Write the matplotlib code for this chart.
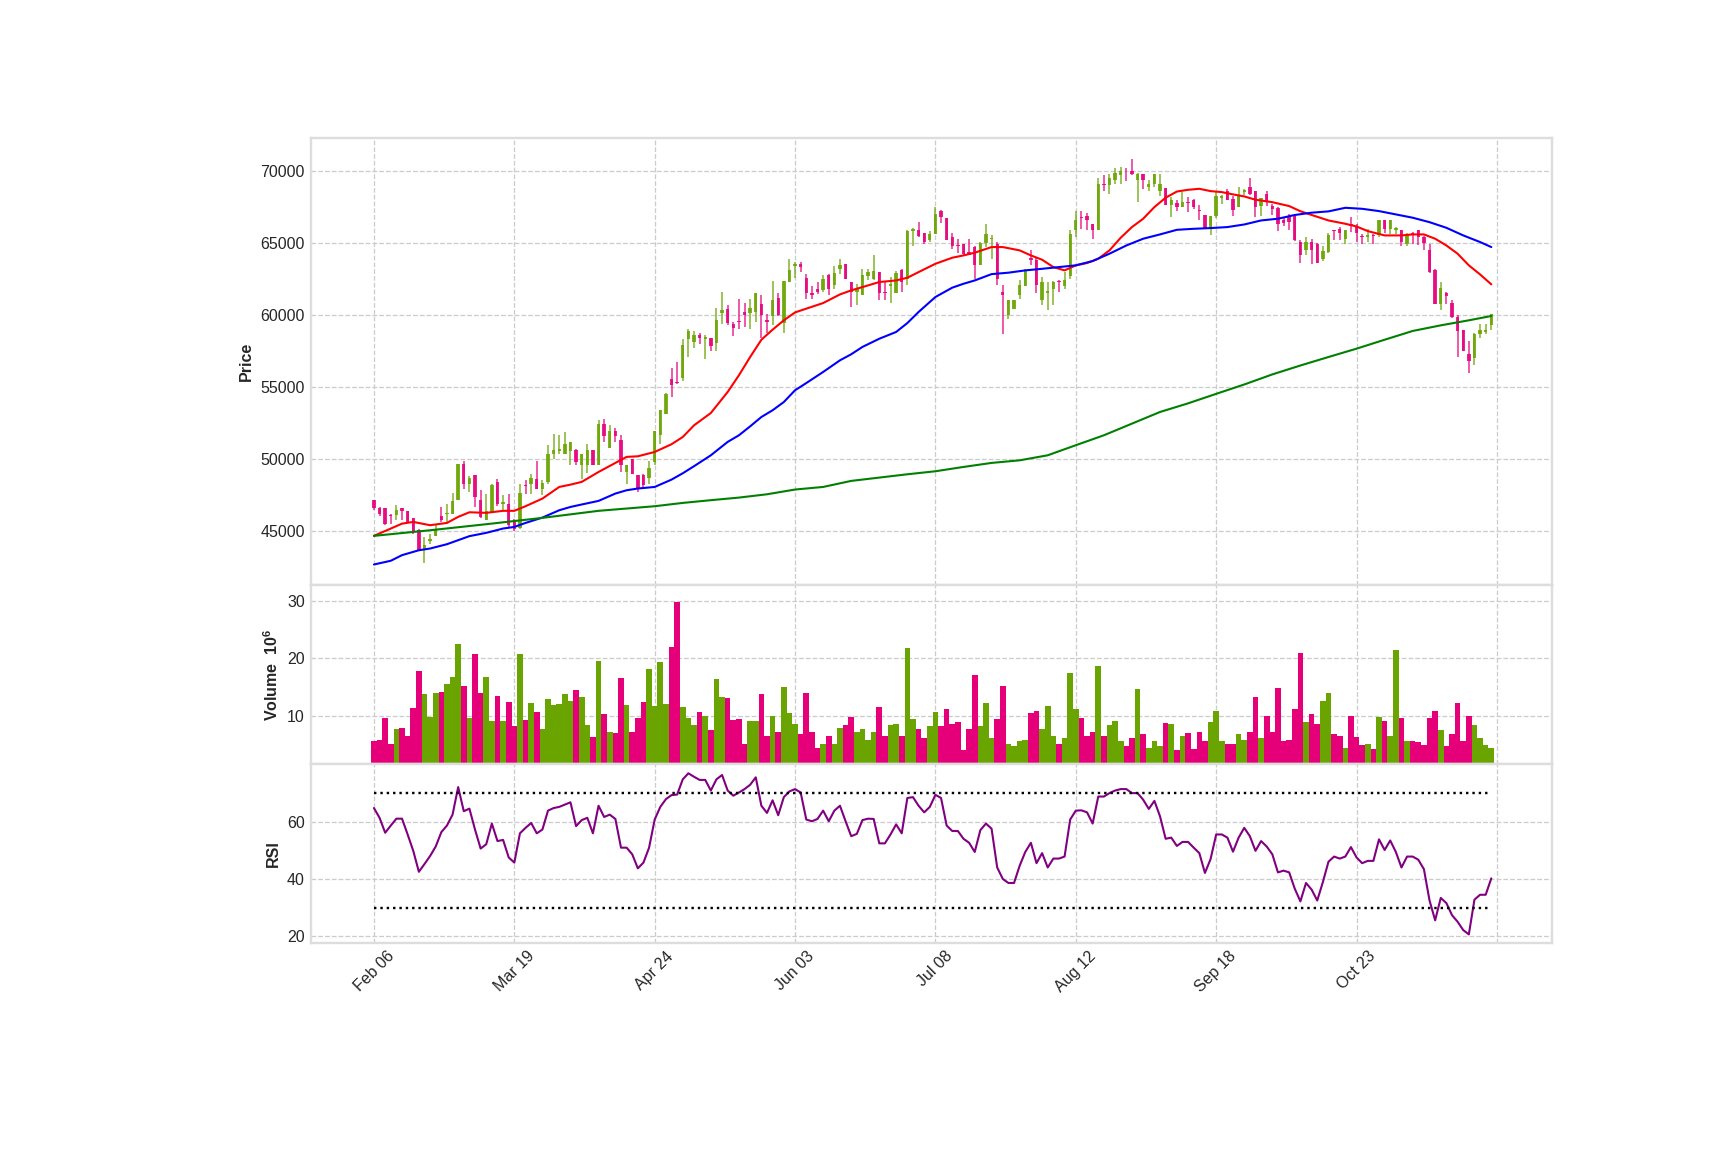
import matplotlib.pyplot as plt
import numpy as np

# daily candles (price in won), index 0 = Feb 06
open_ = [47100, 46550, 46550, 46100, 46090, 46550, 46340, 45900, 45070, 43680,
         44280, 44630, 45990, 46160, 46180, 47150, 49610, 48260, 48840, 47110,
         45720, 46300, 48380, 46830, 46830, 45720, 45210, 48150, 48260, 48610,
         47920, 48380, 50350, 50510, 50350, 50530, 50580, 49540, 49540, 50580,
         49540, 52430, 50760, 51900, 51270, 49070, 50000, 48840, 48840, 48680,
         49770, 51640, 53080, 55560, 55320, 55630, 58330, 58100, 58560, 58330,
         58400, 58030, 60120, 60420, 59330, 59540, 60190, 60120, 60190, 60720,
         59650, 59910, 61180, 59420, 62270, 63400, 63500, 62570, 61530, 61810,
         61740, 62780, 62060, 63170, 63500, 62270, 61570, 61340, 62690, 62500,
         62960, 61570, 61990, 61530, 63120, 62500, 65810, 65900, 65670, 65160,
         65620, 67200, 66740, 65390, 64810, 64930, 64350, 64700, 63450, 64980,
         65230, 64930, 61570, 59960, 60420, 61340, 61970, 63940, 63820, 60990,
         61530, 61760, 62340, 61970, 62660, 65900, 66810, 66830, 66320, 65900,
         69050, 68980, 69380, 69700, 70020, 70020, 69380, 69750, 68870, 69100,
         68630, 68820, 67590, 67750, 67480, 67820, 67990, 67250, 66900, 66040,
         66830, 68130, 68630, 68060, 67480, 68520, 68870, 68590, 67520, 68360,
         67520, 67410, 66550, 66780, 66830, 65050, 64470, 65050, 64930, 63840,
         64350, 65860, 65970, 65280, 66320, 66130, 65440, 65390, 65510, 65510,
         66550, 65970, 65860, 65900, 64880, 65700, 65860, 65390, 64510, 63120,
         60760, 61530, 60810, 59840, 58960, 57250, 56990, 58680, 58800, 59300]
high = [47150, 46640, 46550, 46180, 46780, 46550, 46340, 45900, 45100, 44560,
        44790, 45370, 46640, 46870, 47620, 49610, 49840, 48820, 48840, 47800,
        47570, 48260, 48610, 47450, 47520, 45830, 48260, 48500, 48960, 49840,
        48500, 50920, 51740, 51620, 51850, 51180, 50700, 50300, 51040, 50580,
        52660, 52780, 52320, 52150, 51620, 49540, 50000, 48840, 48960, 49840,
        51900, 53360, 54560, 56300, 56710, 58330, 59030, 58870, 58720, 58560,
        58400, 60490, 61570, 60650, 59490, 61110, 60810, 61110, 61530, 61340,
        60070, 62310, 61510, 62310, 63890, 63660, 63660, 62800, 61990, 62270,
        62730, 62850, 63400, 63890, 63500, 62270, 62150, 63190, 63190, 64120,
        62960, 62270, 62620, 63030, 63190, 65900, 66040, 66430, 65670, 65810,
        67480, 67290, 66740, 65670, 65280, 64930, 65280, 64750, 65050, 66320,
        65510, 65050, 62040, 60990, 60990, 62430, 63190, 64510, 63960, 62620,
        62270, 62340, 62430, 62960, 65860, 67200, 67200, 67060, 66320, 69510,
        69680, 69790, 70210, 70250, 70210, 70830, 69840, 69750, 69330, 69790,
        69790, 68820, 68170, 67990, 68520, 68170, 68060, 67590, 66900, 66830,
        68520, 68290, 68750, 68220, 68870, 68750, 69510, 68630, 68130, 68630,
        67710, 67480, 66780, 67010, 67010, 65160, 65390, 65280, 64980, 64750,
        65670, 65900, 66090, 65900, 66780, 66320, 65620, 65970, 65620, 66550,
        66550, 66550, 66090, 65900, 65670, 65740, 65900, 65440, 64930, 63190,
        62270, 61570, 61040, 59960, 58960, 58170, 58720, 59380, 59330, 60070]
low = [46460, 46040, 45410, 45480, 45720, 45720, 45490, 44790, 43630, 42710,
       44050, 44630, 45600, 45600, 46180, 47110, 47920, 47690, 46640, 45880,
       45720, 46300, 46690, 46370, 45250, 44980, 45140, 47520, 47570, 47920,
       47480, 48260, 50000, 50350, 50300, 49540, 49540, 48610, 49000, 49540,
       49540, 51160, 50760, 51160, 49070, 48260, 48960, 47690, 48030, 48260,
       49540, 51000, 53080, 54280, 55200, 55390, 57060, 57710, 57940, 56940,
       57480, 57480, 59380, 59260, 58490, 59030, 59140, 59030, 59490, 58400,
       58720, 59260, 59910, 58720, 62270, 62570, 62960, 61110, 61110, 61410,
       61570, 61340, 61810, 62850, 62500, 60530, 60650, 61340, 62380, 62430,
       61000, 61040, 60830, 61530, 61570, 62040, 64750, 65390, 64930, 65050,
       65580, 66360, 65210, 64580, 64310, 64120, 64120, 62500, 63450, 64700,
       63840, 62040, 58630, 59720, 60420, 61110, 61970, 63430, 61510, 60650,
       60300, 60650, 61570, 61810, 62500, 65390, 65970, 65860, 65280, 65900,
       68590, 68360, 69050, 69100, 69280, 69680, 67820, 68750, 68630, 68870,
       68220, 67590, 66780, 67200, 67480, 67130, 67360, 66550, 65970, 65510,
       66740, 67710, 67940, 66830, 67480, 68290, 68290, 66780, 66830, 67520,
       66900, 65810, 66130, 65860, 65120, 63590, 64120, 63500, 63590, 63730,
       64280, 65210, 65210, 64930, 65740, 65050, 64930, 65050, 64930, 65390,
       65670, 65620, 65620, 64750, 64750, 64930, 64810, 64510, 62890, 60720,
       60300, 60720, 59790, 57060, 57480, 55950, 56480, 58400, 58630, 58910]
close = [46570, 46180, 45480, 46000, 46410, 46370, 45600, 44900, 43680, 43980,
         44420, 45140, 45760, 46230, 47060, 49610, 48260, 48630, 47340, 45950,
         46340, 48150, 46830, 46990, 45370, 45140, 47620, 48080, 48680, 47920,
         48310, 50300, 50580, 50700, 51000, 51180, 49770, 50300, 50580, 49540,
         52390, 51570, 51900, 51570, 49540, 49540, 48960, 47920, 48150, 49380,
         51900, 53360, 54470, 55090, 55250, 57870, 58840, 58610, 58380, 58450,
         57820, 59650, 60350, 59420, 59100, 59490, 59980, 60490, 61530, 60000,
         59490, 60990, 59980, 62310, 63120, 63500, 63310, 61510, 61340, 61570,
         62500, 61810, 62920, 63470, 62500, 61570, 61810, 62780, 62960, 63010,
         61530, 61510, 62110, 62920, 62270, 65810, 65970, 65460, 65050, 65620,
         67010, 66780, 65210, 64750, 64770, 64240, 64120, 63450, 64980, 65620,
         65350, 62500, 61340, 60990, 60990, 62040, 63120, 63770, 62080, 62270,
         61620, 62270, 62270, 62430, 65620, 66600, 66720, 66550, 65900, 69050,
         68980, 69510, 69860, 70020, 69980, 69750, 69790, 69380, 69100, 69790,
         69100, 67590, 67990, 67480, 67800, 67750, 67480, 67180, 66040, 66830,
         68220, 68220, 67990, 67290, 68220, 68680, 68360, 67480, 68130, 67820,
         67380, 66320, 66360, 66430, 65160, 64120, 65050, 64470, 63590, 64400,
         65510, 65810, 65670, 65860, 66130, 65670, 65390, 65510, 65460, 66550,
         65970, 66550, 66000, 65050, 65620, 65510, 65390, 64980, 62960, 60760,
         61850, 61300, 59840, 58870, 57480, 56780, 58680, 58960, 58960, 60020]

# traded volume, millions of shares
volume = [5.5, 5.8, 9.5, 5.1, 7.6, 7.9, 6.5, 11.3, 17.8, 13.8,
          9.7, 13.9, 14.1, 15.5, 16.7, 22.6, 15.2, 9.5, 20.8, 13.9,
          16.7, 9.0, 13.4, 9.0, 12.3, 8.1, 20.8, 9.2, 12.2, 10.6,
          7.6, 12.9, 11.8, 12.0, 13.8, 12.5, 14.5, 13.2, 8.3, 6.2,
          19.6, 10.2, 7.1, 6.9, 16.6, 11.8, 7.1, 9.5, 12.3, 18.2,
          11.6, 19.4, 12.0, 22.0, 29.8, 11.5, 9.5, 8.3, 10.6, 9.9,
          7.4, 16.4, 13.2, 13.1, 9.2, 9.4, 5.0, 9.0, 9.0, 13.8,
          6.5, 10.0, 7.1, 15.0, 10.4, 8.5, 6.7, 13.9, 7.2, 4.4,
          5.0, 6.5, 5.1, 7.9, 8.3, 9.7, 7.2, 7.7, 5.8, 7.2,
          11.5, 6.5, 8.3, 8.5, 6.4, 21.8, 9.4, 7.6, 6.0, 8.1,
          10.6, 8.1, 11.1, 8.5, 8.9, 3.9, 7.7, 17.1, 8.1, 12.2,
          6.0, 9.4, 15.2, 5.0, 4.6, 5.5, 5.7, 10.4, 10.8, 7.7,
          11.6, 6.5, 5.0, 6.0, 17.5, 11.1, 9.5, 6.4, 7.2, 18.7,
          6.5, 8.3, 9.0, 5.5, 4.6, 6.0, 14.6, 6.7, 4.4, 5.5,
          4.6, 8.7, 8.5, 3.9, 6.5, 6.9, 4.1, 7.2, 5.5, 8.9,
          10.8, 5.5, 5.1, 5.1, 6.7, 5.7, 7.2, 13.2, 6.0, 10.0,
          7.2, 14.8, 5.5, 5.7, 11.1, 21.0, 8.9, 10.2, 8.5, 12.5,
          13.9, 6.7, 6.4, 4.4, 9.9, 6.2, 4.8, 5.1, 4.1, 9.7,
          9.0, 6.4, 21.5, 9.5, 5.5, 5.5, 5.3, 4.8, 9.5, 10.8,
          7.4, 4.6, 6.7, 12.2, 5.5, 9.9, 8.3, 6.0, 4.8, 4.4]

rsi = [64.7, 61.3, 56.1, 58.6, 61.0, 61.0, 55.5, 49.8, 42.5, 45.2,
       48.0, 51.3, 56.3, 58.6, 62.4, 72.0, 63.6, 64.5, 57.2, 50.6,
       52.1, 59.3, 53.2, 53.6, 47.5, 45.7, 55.9, 57.8, 59.5, 55.9,
       57.2, 63.8, 64.7, 65.1, 65.9, 66.7, 58.4, 60.5, 61.3, 55.9,
       65.5, 61.6, 62.4, 60.9, 50.9, 50.9, 48.6, 43.7, 45.7, 50.9,
       60.7, 65.1, 67.8, 69.2, 69.4, 74.7, 76.8, 75.6, 74.5, 74.5,
       70.8, 74.7, 76.2, 70.8, 69.0, 70.1, 71.3, 72.8, 75.4, 65.5,
       63.0, 67.4, 62.2, 68.5, 70.5, 71.3, 70.1, 60.7, 60.1, 60.9,
       63.8, 60.1, 63.8, 65.5, 60.1, 54.9, 55.7, 60.5, 61.0, 60.9,
       52.4, 52.4, 55.5, 59.0, 55.9, 68.2, 68.5, 65.5, 63.2, 65.1,
       69.3, 68.2, 58.6, 56.7, 56.7, 54.0, 52.6, 49.4, 57.0, 59.3,
       57.5, 44.0, 40.0, 38.6, 38.6, 44.6, 49.4, 52.6, 45.5, 49.0,
       44.0, 47.1, 47.1, 47.8, 60.7, 63.8, 63.9, 63.2, 59.3, 68.7,
       68.7, 69.9, 70.8, 71.3, 71.3, 69.9, 69.9, 67.6, 64.4, 67.2,
       61.8, 54.0, 54.4, 51.5, 52.9, 52.9, 50.9, 49.0, 42.1, 46.9,
       55.5, 55.5, 54.4, 49.5, 54.4, 57.8, 54.9, 49.8, 53.2, 51.3,
       48.6, 42.3, 42.9, 42.3, 36.6, 32.2, 38.6, 36.3, 32.5, 38.9,
       46.0, 47.8, 47.1, 47.8, 51.1, 47.5, 45.5, 46.3, 46.3, 53.8,
       50.1, 53.4, 49.4, 44.0, 47.8, 47.8, 46.7, 43.4, 32.5, 25.6,
       33.4, 31.6, 27.4, 25.1, 22.2, 20.7, 32.8, 34.5, 34.5, 40.2]

# moving averages, read at sample days
ma_short_day = [0, 5, 7, 10, 13, 15, 17, 20, 23, 25, 27, 30, 33, 35, 37, 40, 43, 45, 47, 50,
                53, 55, 57, 60, 63, 65, 67, 69, 71, 73, 75, 77, 80, 83, 85, 87, 90, 93, 95, 97,
                100, 103, 105, 107, 110, 112, 115, 117, 119, 121, 123, 125, 127, 129, 131, 133,
                135, 137, 139, 141, 143, 145, 147, 149, 151, 153, 155, 157, 160, 163, 165, 167,
                170, 173, 175, 177, 180, 183, 185, 187, 189, 191, 193, 195, 197, 199]
ma_short = [44630, 45480, 45600, 45370, 45530, 45950, 46270, 46230, 46370, 46370, 46690, 47220,
            48030, 48190, 48380, 49070, 49700, 50120, 50160, 50460, 51000, 51500, 52310, 53170,
            54630, 55790, 57060, 58260, 58960, 59610, 60160, 60420, 60810, 61410, 61690, 61920,
            62270, 62380, 62570, 62960, 63540, 63960, 64120, 64310, 64700, 64700, 64470, 64120,
            63820, 63310, 63080, 63430, 63590, 63890, 64470, 65350, 66090, 66670, 67480, 68130,
            68560, 68680, 68750, 68590, 68520, 68360, 68220, 67990, 67820, 67550, 67190, 66930,
            66550, 66320, 66130, 65810, 65510, 65510, 65580, 65580, 65280, 64810, 64240, 63430,
            62800, 62110]
ma_mid_day = [0, 3, 5, 8, 10, 13, 15, 17, 20, 23, 25, 27, 30, 33, 35, 37, 40, 43, 45, 47, 50,
              53, 55, 57, 60, 63, 65, 67, 69, 71, 73, 75, 77, 80, 83, 85, 87, 90, 93, 95, 97,
              100, 103, 105, 107, 110, 113, 116, 119, 122, 125, 128, 131, 134, 137, 140, 143,
              146, 149, 152, 155, 158, 161, 164, 167, 170, 173, 176, 179, 182, 185, 188, 191,
              194, 197, 199]
ma_mid = [42640, 42900, 43290, 43630, 43750, 44050, 44330, 44610, 44840, 45140, 45250, 45530,
          45900, 46410, 46640, 46810, 47060, 47570, 47800, 47920, 48030, 48540, 48980, 49470,
          50230, 51160, 51620, 52240, 52890, 53360, 53930, 54750, 55250, 56020, 56830, 57250,
          57760, 58330, 58800, 59420, 60190, 61230, 61880, 62150, 62380, 62820, 62920, 63080,
          63190, 63310, 63430, 63730, 64240, 64810, 65280, 65580, 65900, 65970, 66020, 66090,
          66270, 66550, 66670, 66930, 67090, 67180, 67430, 67360, 67200, 66970, 66740, 66430,
          66040, 65510, 65050, 64700]
ma_long_day = [0, 10, 20, 30, 40, 50, 55, 60, 65, 70, 75, 80, 85, 90, 95, 100, 105, 110, 115,
               120, 125, 130, 135, 140, 145, 150, 155, 160, 165, 170, 175, 180, 185, 190, 195, 199]
ma_long = [44630, 45020, 45440, 45880, 46370, 46690, 46920, 47110, 47290, 47520, 47850, 48030,
           48450, 48680, 48910, 49120, 49420, 49700, 49880, 50230, 50930, 51620, 52430, 53240,
           53840, 54500, 55150, 55850, 56470, 57060, 57640, 58260, 58870, 59260, 59610, 59910]

tick_labels = ['Feb 06', 'Mar 19', 'Apr 24', 'Jun 03', 'Jul 08', 'Aug 12', 'Sep 18', 'Oct 23', '']

plt.style.use('seaborn-v0_8-whitegrid')
plt.rcParams['font.family'] = ['Liberation Sans', 'DejaVu Sans']
plt.rcParams['mathtext.default'] = 'regular'
plt.rcParams['grid.linestyle'] = '--'
plt.rcParams['axes.edgecolor'] = '#dddddd'
plt.rcParams['axes.linewidth'] = 1.5

up_color = '#6aa400'
down_color = '#e5007a'

o = np.array(open_)
c = np.array(close)
x = np.arange(len(c))
colors = np.where(c >= o, up_color, down_color)

fig, (ax1, ax2, ax3) = plt.subplots(3, 1, sharex=True, figsize=(15, 10), dpi=115,
                                    gridspec_kw={'height_ratios': [2.5, 1, 1], 'hspace': 0})
fig.subplots_adjust(left=0.18, right=0.9, top=0.88, bottom=0.18)

# price panel
ax1.vlines(x, low, high, colors=colors, linewidth=1, alpha=0.8)
ax1.bar(x, np.maximum(np.abs(c - o), 40), bottom=np.minimum(o, c), width=0.6,
        color=colors, alpha=0.85)
ax1.plot(ma_short_day, ma_short, color='red', lw=1.3)
ax1.plot(ma_mid_day, ma_mid, color='blue', lw=1.3)
ax1.plot(ma_long_day, ma_long, color='green', lw=1.3)
ax1.set_ylim(41200, 72280)
ax1.set_yticks(np.arange(45000, 70001, 5000))
ax1.set_ylabel('Price', fontweight='bold')

# volume panel
ax2.bar(x, volume, width=1.0, color=colors)
ax2.set_ylim(1.5, 32.8)
ax2.set_yticks([10, 20, 30])
ax2.set_ylabel('Volume  $10^6$', fontweight='bold')

# rsi panel
ax3.plot(x, rsi, color='purple', lw=1.3)
ax3.hlines([70, 30], 0, len(x) - 1, colors='black', linestyles=':', lw=1.5)
ax3.set_ylim(17.7, 80)
ax3.set_yticks([20, 40, 60])
ax3.set_ylabel('RSI', fontweight='bold')

ax3.set_xlim(-11.3, 209.9)
ax3.set_xticks(np.arange(0, 201, 25))
ax3.set_xticklabels(tick_labels, rotation=45)

plt.savefig('out.png')
